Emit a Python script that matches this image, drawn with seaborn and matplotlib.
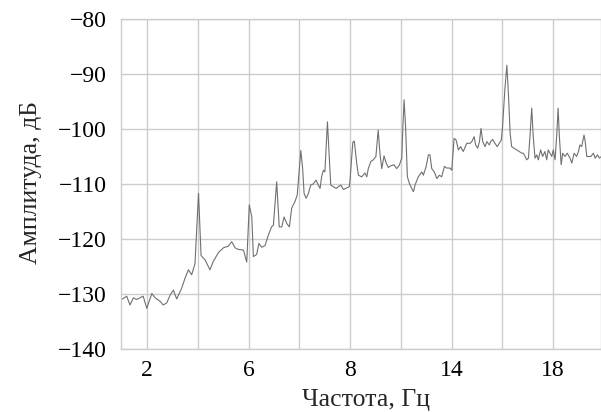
import numpy as np
import pandas as pd
import matplotlib
matplotlib.use('Agg')
import matplotlib.pyplot as plt
import seaborn as sns

# spectrum (frequency, amplitude in dB)
freq = [1.00, 1.20, 1.33, 1.46, 1.59, 1.72, 1.85, 1.99, 2.19, 2.32, 2.51, 2.64, 2.78, 2.91,
        3.04, 3.17, 3.37, 3.50, 3.63, 3.76, 3.89, 4.03, 4.13, 4.29, 4.48, 4.61, 4.81, 5.01,
        5.20, 5.34, 5.47, 5.60, 5.80, 5.93, 6.03, 6.13, 6.19, 6.32, 6.41, 6.52, 6.65, 6.78,
        6.91, 6.98, 7.11, 7.21, 7.31, 7.40, 7.51, 7.61, 7.70, 7.83, 7.92, 8.06, 8.13, 8.19,
        8.27, 8.36, 8.45, 8.55, 8.66, 8.75, 8.82, 8.88, 8.95, 9.01, 9.11, 9.18, 9.24, 9.34,
        9.45, 9.54, 9.64, 9.74, 9.87, 9.97, 10.00, 10.11, 10.17, 10.26, 10.33, 10.46, 10.59,
        10.66, 10.72, 10.82, 10.92, 11.02, 11.11, 11.18, 11.25, 11.34, 11.42, 11.51, 11.60,
        11.73, 11.84, 11.94, 12.04, 12.08, 12.13, 12.19, 12.26, 12.34, 12.43, 12.50, 12.56,
        12.69, 12.83, 12.89, 13.00, 13.09, 13.15, 13.22, 13.32, 13.42, 13.52, 13.61, 13.72,
        13.81, 13.94, 14.01, 14.10, 14.18, 14.27, 14.36, 14.46, 14.60, 14.73, 14.80, 14.89,
        14.95, 15.03, 15.10, 15.16, 15.23, 15.32, 15.39, 15.49, 15.54, 15.62, 15.71, 15.80,
        15.88, 15.96, 16.01, 16.10, 16.18, 16.24, 16.31, 16.37, 16.46, 16.57, 16.67, 16.77,
        16.83, 16.90, 16.96, 17.03, 17.09, 17.16, 17.22, 17.29, 17.36, 17.42, 17.51, 17.59,
        17.68, 17.75, 17.81, 17.88, 17.95, 18.01, 18.08, 18.15, 18.20, 18.25, 18.32, 18.38,
        18.47, 18.56, 18.67, 18.74, 18.83, 18.93, 19.00, 19.06, 19.13, 19.22, 19.26, 19.33,
        19.39, 19.49, 19.59, 19.66, 19.75, 19.83, 19.90]
ampl = [-131.0, -130.4, -132.0, -130.7, -131.0, -130.7, -130.4, -132.6, -129.9, -130.7, -131.3,
        -132.0, -131.6, -130.2, -129.3, -130.9, -128.9, -127.1, -125.6, -126.5, -124.5, -111.7,
        -123.0, -123.8, -125.6, -124.1, -122.5, -121.6, -121.3, -120.5, -121.6, -121.9, -122.0,
        -124.2, -113.8, -116.0, -123.2, -122.8, -120.8, -121.5, -121.2, -119.3, -117.8, -117.5,
        -109.6, -117.8, -117.8, -116.0, -117.2, -117.8, -114.4, -113.2, -112.0, -103.9, -107.0,
        -111.7, -112.6, -111.7, -110.2, -110.0, -109.3, -110.2, -110.8, -108.7, -107.5, -107.8,
        -98.7, -105.0, -110.2, -110.5, -110.8, -110.5, -110.2, -111.0, -110.7, -110.5, -109.3,
        -102.4, -102.2, -106.1, -108.4, -108.7, -108.0, -108.7, -107.2, -105.9, -105.6, -105.0,
        -100.2, -104.5, -107.2, -104.9, -106.1, -107.0, -106.7, -106.5, -107.2, -106.6, -105.3,
        -99.9, -94.7, -99.6, -108.7, -109.9, -110.8, -111.4, -110.2, -108.7, -107.8, -108.4,
        -106.8, -104.7, -104.7, -107.2, -107.8, -109.0, -108.4, -108.7, -106.8, -107.1, -107.1,
        -107.5, -101.7, -102.0, -103.8, -103.2, -104.1, -102.6, -102.6, -102.3, -101.4, -102.9,
        -103.5, -102.3, -99.9, -102.3, -103.2, -102.3, -102.9, -102.3, -101.9, -102.6, -103.2,
        -102.6, -102.0, -99.6, -92.9, -88.4, -93.5, -100.8, -103.2, -103.5, -103.8, -104.1,
        -104.4, -104.4, -105.0, -105.6, -105.3, -101.4, -96.2, -101.4, -105.3, -104.7, -105.6,
        -103.8, -105.0, -104.1, -105.6, -103.8, -104.4, -105.0, -103.8, -105.6, -100.8, -96.2,
        -101.4, -106.5, -104.4, -105.0, -104.4, -105.3, -106.2, -104.4, -105.0, -104.1, -102.9,
        -103.2, -101.1, -102.0, -105.0, -105.0, -105.0, -104.4, -105.3, -104.7, -105.3, -105.0]

xticks = [2, 6, 10, 14, 18]
xtick_labels = ['2', '6', '8', '14', '18']
xminor = [4, 8, 12, 16]
yticks = [-140, -130, -120, -110, -100, -90, -80]

sns.set_style('whitegrid')
plt.rcParams['font.family'] = ['Liberation Serif', 'DejaVu Serif']
plt.rcParams['axes.unicode_minus'] = True

df = pd.DataFrame({'f': freq, 'a': ampl})

fig = plt.figure(figsize=(6.01, 4.12), dpi=100)
ax = fig.add_axes([121 / 601, 1 - 349 / 412, 480 / 601, 330 / 412])
sns.lineplot(data=df, x='f', y='a', ax=ax, color='#707070', linewidth=0.8)

ax.set_xlim(0.975, 19.89)
ax.set_ylim(-140, -80)
ax.set_xticks(xticks)
ax.set_xticklabels(xtick_labels)
ax.set_xticks(xminor, minor=True)
ax.set_yticks(yticks)
ax.grid(True, which='both', color='#cccccc', linewidth=1.0)
for s in ax.spines.values():
    s.set_color('#cccccc')
    s.set_linewidth(1.0)
ax.tick_params(axis='both', which='both', length=0, labelsize=17, colors='black')
ax.tick_params(axis='y', pad=10)
ax.tick_params(axis='x', pad=8)

ax.set_xlabel('Частота, Гц', fontsize=18.5)
ax.set_ylabel('Амплитуда, дБ', fontsize=18.5)
ax.xaxis.set_label_coords(0.51, -0.12)
ax.yaxis.set_label_coords(-0.165, 0.505)

fig.savefig('out.png', dpi=100)
plt.close(fig)
